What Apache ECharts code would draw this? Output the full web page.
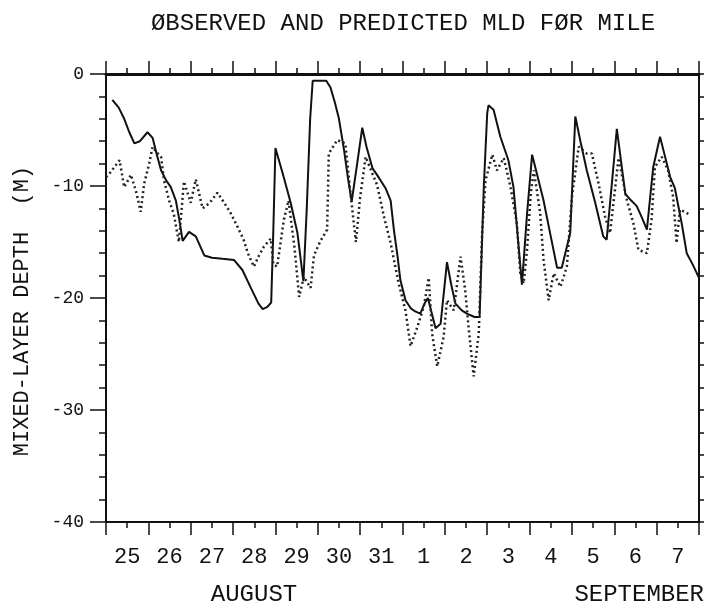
<!DOCTYPE html>
<html>
<head>
<meta charset="utf-8">
<script src="https://cdn.jsdelivr.net/npm/echarts@6/dist/echarts.min.js"></script>
<style>html,body{margin:0;padding:0;background:#fff}#c{width:704px;height:611px}</style>
</head>
<body>
<div id="c"></div>
<script>
// x: days since 25 August 00:00, y: mixed-layer depth (m)
var dayLabels = ['25','26','27','28','29','30','31','1','2','3','4','5','6','7'];
var yTicks = [-40, -30, -20, -10, 0];
var observed = [
[0.15,-2.3],[0.3,-3.0],[0.43,-4.0],[0.55,-5.2],[0.67,-6.2],[0.8,-6.0],[0.98,-5.2],[1.1,-5.7],[1.2,-7.2],[1.3,-8.6],[1.42,-9.5],[1.53,-10.1],[1.65,-11.3],[1.73,-13.0],[1.81,-14.9],[1.96,-14.1],[2.12,-14.5],[2.32,-16.2],[2.5,-16.4],[2.75,-16.5],[3.02,-16.6],[3.22,-17.5],[3.42,-19.1],[3.6,-20.5],[3.7,-21.0],[3.81,-20.8],[3.9,-20.4],[3.95,-14],[4.0,-6.6],[4.18,-9.0],[4.36,-11.5],[4.52,-14.2],[4.66,-18.5],[4.74,-12],[4.82,-4],[4.88,-0.6],[5.2,-0.6],[5.3,-1.2],[5.4,-2.5],[5.5,-4.0],[5.62,-6.8],[5.72,-9.5],[5.8,-11.4],[5.93,-8],[6.05,-4.8],[6.15,-6.5],[6.29,-8.4],[6.45,-9.3],[6.6,-10.2],[6.72,-11.3],[6.8,-14],[6.88,-16.2],[6.95,-18.4],[7.07,-20.2],[7.19,-20.9],[7.3,-21.2],[7.42,-21.4],[7.52,-20.5],[7.6,-20.0],[7.7,-21.5],[7.78,-22.7],[7.9,-22.3],[8.05,-16.8],[8.15,-18.8],[8.25,-20.5],[8.4,-21.1],[8.52,-21.4],[8.7,-21.7],[8.82,-21.7],[8.92,-10],[9.0,-3.5],[9.03,-2.8],[9.15,-3.2],[9.31,-5.6],[9.5,-7.7],[9.62,-10.1],[9.72,-14.5],[9.82,-18.8],[9.94,-12.5],[10.06,-7.2],[10.2,-9.3],[10.33,-11.3],[10.5,-14.5],[10.65,-17.3],[10.76,-17.3],[10.96,-14.2],[11.08,-3.8],[11.2,-6],[11.35,-8.6],[11.55,-11.5],[11.74,-14.5],[11.82,-14.8],[11.95,-9.5],[12.06,-4.9],[12.26,-10.7],[12.4,-11.3],[12.53,-11.8],[12.65,-12.8],[12.77,-13.9],[12.92,-8.3],[13.08,-5.6],[13.2,-7.4],[13.32,-9.2],[13.43,-10.2],[13.59,-13.3],[13.71,-16.0],[13.85,-17.0],[14.0,-18.2]
];
var predicted = [
[0.0,-9.2],[0.08,-8.9],[0.2,-8.3],[0.32,-7.7],[0.43,-10.1],[0.59,-9.0],[0.71,-10.5],[0.82,-12.3],[0.9,-9.8],[1.02,-8.0],[1.1,-6.5],[1.2,-7.0],[1.3,-7.4],[1.37,-9.5],[1.49,-11.3],[1.6,-12.5],[1.72,-15.0],[1.84,-9.6],[2.0,-11.5],[2.12,-9.4],[2.28,-12.0],[2.45,-11.5],[2.63,-10.6],[2.79,-11.5],[2.94,-12.4],[3.1,-13.6],[3.25,-14.8],[3.35,-16.0],[3.49,-17.2],[3.6,-16.3],[3.73,-15.4],[3.89,-14.7],[3.95,-17.0],[4.04,-17.2],[4.2,-13.0],[4.31,-11.3],[4.45,-15.5],[4.56,-19.9],[4.67,-18.1],[4.83,-19.1],[4.91,-16.2],[5.05,-15.0],[5.22,-13.9],[5.26,-7.1],[5.46,-5.9],[5.65,-6.2],[5.77,-10.6],[5.9,-15.0],[6.0,-11],[6.13,-7.4],[6.29,-8.9],[6.4,-9.9],[6.56,-12.7],[6.72,-15.1],[6.91,-18.7],[7.07,-21.1],[7.19,-24.3],[7.35,-22.6],[7.5,-20.8],[7.62,-18.2],[7.7,-23.2],[7.82,-26.1],[7.97,-23.5],[8.05,-20.2],[8.21,-21.1],[8.37,-16.3],[8.48,-19.3],[8.56,-22.6],[8.68,-27.0],[8.8,-23.2],[8.88,-14.2],[8.96,-9.5],[9.12,-7.2],[9.23,-8.6],[9.39,-7.5],[9.55,-10.1],[9.7,-13.3],[9.78,-17.8],[9.86,-18.7],[9.94,-15.7],[10.03,-10.6],[10.1,-8.6],[10.25,-12.4],[10.33,-16.6],[10.45,-20.2],[10.57,-17.8],[10.73,-19.0],[10.88,-17.2],[11.0,-11],[11.16,-6.5],[11.35,-7.1],[11.47,-7.1],[11.63,-9.8],[11.78,-12.7],[11.9,-14.2],[12.1,-7.5],[12.3,-11.3],[12.45,-13.3],[12.57,-15.7],[12.77,-16.0],[12.88,-13.0],[12.96,-8.3],[13.12,-7.4],[13.27,-8.6],[13.39,-11.0],[13.47,-15.1],[13.55,-12.1],[13.71,-12.4],[13.78,-12.6]
];
var titleText = '\u00d8BSERVED AND PREDICTED MLD F\u00d8R MILE';
var yName = 'MIXED-LAYER DEPTH  (M)';
var monthLeft = 'AUGUST';
var monthRight = 'SEPTEMBER';

var FONT = "'Liberation Mono', 'DejaVu Sans Mono', monospace";
var INK = '#111';
var chart = echarts.init(document.getElementById('c'), null, {renderer: 'canvas'});
var tickAxisBase = {
  type: 'value', min: 0, max: 14, interval: 1,
  axisLine: {show: true, onZero: false, lineStyle: {color: INK, width: 2}},
  axisTick: {show: true, inside: false, length: 13, lineStyle: {color: INK, width: 1.5}},
  minorTick: {show: true, splitNumber: 2, length: 6, lineStyle: {color: INK, width: 1.5}},
  axisLabel: {show: false}, splitLine: {show: false}
};
var yBase = {
  type: 'value', min: -40, max: 0, interval: 10,
  axisLine: {show: true, onZero: false, lineStyle: {color: INK, width: 2}},
  axisTick: {show: true, inside: false, length: 16, lineStyle: {color: INK, width: 1.5}},
  minorTick: {show: true, splitNumber: 5, length: 7, lineStyle: {color: INK, width: 1.5}},
  splitLine: {show: false}
};
chart.setOption({
  backgroundColor: '#fff',
  animation: false,
  title: {
    text: titleText, left: 398, top: 7, textAlign: 'center',
    textStyle: {fontFamily: FONT, fontSize: 24, fontWeight: 'normal', color: INK}
  },
  grid: {left: 106, right: 5, top: 74, bottom: 89, containLabel: false},
  xAxis: [
    Object.assign({}, tickAxisBase, {position: 'bottom'}),
    Object.assign({}, tickAxisBase, {position: 'top', axisLine: {show: true, onZero: false, lineStyle: {color: INK, width: 3}}}),
    {
      type: 'category', position: 'bottom', data: dayLabels, boundaryGap: true,
      axisLine: {show: false}, axisTick: {show: false},
      axisLabel: {show: true, margin: 24, fontFamily: FONT, fontSize: 22, color: INK},
      splitLine: {show: false}
    }
  ],
  yAxis: [
    Object.assign({}, yBase, {
      position: 'left',
      axisLabel: {show: true, margin: 22, fontFamily: FONT, fontSize: 18, color: INK,
        formatter: function (v) { return yTicks.indexOf(v) >= 0 ? String(v) : ''; }}
    }),
    Object.assign({}, yBase, {position: 'right', axisLabel: {show: false}})
  ],
  graphic: [
    {type: 'text', x: 22, y: 311, rotation: Math.PI / 2,
      style: {text: yName, fontFamily: FONT, fontSize: 22, fill: INK, textAlign: 'center', textVerticalAlign: 'middle'}},
    {type: 'text', x: 254, y: 595,
      style: {text: monthLeft, fontFamily: FONT, fontSize: 24, fill: INK, textAlign: 'center', textVerticalAlign: 'middle'}},
    {type: 'text', x: 704, y: 595,
      style: {text: monthRight, fontFamily: FONT, fontSize: 24, fill: INK, textAlign: 'right', textVerticalAlign: 'middle'}}
  ],
  series: [
    {name: 'observed', type: 'line', xAxisIndex: 0, yAxisIndex: 0, data: observed,
      showSymbol: false, symbol: 'none', smooth: false,
      lineStyle: {color: INK, width: 2}},
    {name: 'predicted', type: 'line', xAxisIndex: 0, yAxisIndex: 0, data: predicted,
      showSymbol: false, symbol: 'none', smooth: false,
      lineStyle: {color: '#222', width: 2.5, type: [2, 3]}}
  ]
});
</script>
</body>
</html>
